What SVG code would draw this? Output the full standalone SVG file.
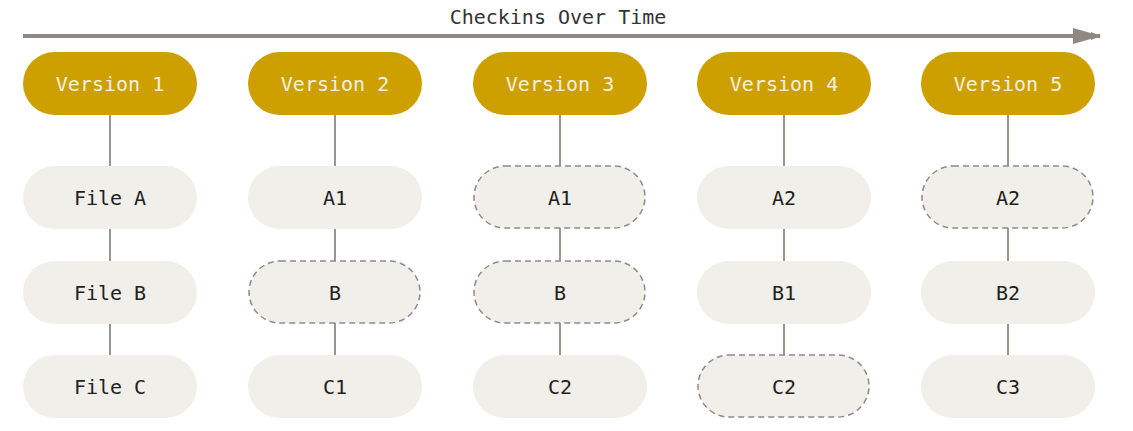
<svg xmlns="http://www.w3.org/2000/svg" width="1133" height="431" viewBox="0 0 1133 431">
<style>
.v{fill:#cda000}
.f{fill:#f0efe9}
.d{fill:#f0efe9;stroke:#8c8c8c;stroke-width:1.5;stroke-dasharray:6 4}
text{font-family:"DejaVu Sans Mono",monospace;font-size:20px;text-anchor:middle;dominant-baseline:central}
.vt{fill:#f2efe2}
.ft{fill:#222}
.c{stroke:#999590;stroke-width:2}
</style>
<defs><marker id="ah" markerWidth="10" markerHeight="8" refX="9" refY="4" orient="auto" markerUnits="userSpaceOnUse" viewBox="0 0 10 8"><path d="M0,0 L10,4 L0,8z" fill="#8f8982"/></marker></defs>
<text x="558" y="17" class="ft" style="fill:#333">Checkins Over Time</text>
<g id="connectors">
<line x1="23" y1="36" x2="1100" y2="36" stroke="#8f8982" stroke-width="4" marker-end="url(#ah)"/>
<path class="c" d="M110,115V385M335,115V385M560,115V385M784,115V385M1008,115V385"/>
</g>
<defs><marker id="ah2" markerWidth="28" markerHeight="20" refX="27" refY="10" orient="auto" markerUnits="userSpaceOnUse" viewBox="0 0 28 20"><path d="M0,2 L28,10 L0,18z" fill="#8f8982"/></marker></defs>
<line x1="1070" y1="36" x2="1100" y2="36" stroke="none" marker-end="url(#ah2)"/>
<g id="v1"><rect class="v" x="23" y="52" width="174" height="63" rx="31.5"/><text class="vt" x="110" y="84">Version 1</text></g>
<g id="v2"><rect class="v" x="248" y="52" width="174" height="63" rx="31.5"/><text class="vt" x="335" y="84">Version 2</text></g>
<g id="v3"><rect class="v" x="473" y="52" width="174" height="63" rx="31.5"/><text class="vt" x="560" y="84">Version 3</text></g>
<g id="v4"><rect class="v" x="697" y="52" width="174" height="63" rx="31.5"/><text class="vt" x="784" y="84">Version 4</text></g>
<g id="v5"><rect class="v" x="921" y="52" width="174" height="63" rx="31.5"/><text class="vt" x="1008" y="84">Version 5</text></g>
<g id="n1a"><rect class="f" x="23" y="166" width="174" height="63" rx="31.5"/><text class="ft" x="110" y="198">File A</text></g>
<g id="n1b"><rect class="f" x="23" y="261" width="174" height="63" rx="31.5"/><text class="ft" x="110" y="293">File B</text></g>
<g id="n1c"><rect class="f" x="23" y="355" width="174" height="63" rx="31.5"/><text class="ft" x="110" y="387">File C</text></g>
<g id="n2a"><rect class="f" x="248" y="166" width="174" height="63" rx="31.5"/><text class="ft" x="335" y="198">A1</text></g>
<g id="n2b"><rect class="d" x="249" y="261" width="171" height="62" rx="31"/><text class="ft" x="335" y="293">B</text></g>
<g id="n2c"><rect class="f" x="248" y="355" width="174" height="63" rx="31.5"/><text class="ft" x="335" y="387">C1</text></g>
<g id="n3a"><rect class="d" x="474" y="166" width="171" height="62" rx="31"/><text class="ft" x="560" y="198">A1</text></g>
<g id="n3b"><rect class="d" x="474" y="261" width="171" height="62" rx="31"/><text class="ft" x="560" y="293">B</text></g>
<g id="n3c"><rect class="f" x="473" y="355" width="174" height="63" rx="31.5"/><text class="ft" x="560" y="387">C2</text></g>
<g id="n4a"><rect class="f" x="697" y="166" width="174" height="63" rx="31.5"/><text class="ft" x="784" y="198">A2</text></g>
<g id="n4b"><rect class="f" x="697" y="261" width="174" height="63" rx="31.5"/><text class="ft" x="784" y="293">B1</text></g>
<g id="n4c"><rect class="d" x="698" y="355" width="171" height="62" rx="31"/><text class="ft" x="784" y="387">C2</text></g>
<g id="n5a"><rect class="d" x="922" y="166" width="171" height="62" rx="31"/><text class="ft" x="1008" y="198">A2</text></g>
<g id="n5b"><rect class="f" x="921" y="261" width="174" height="63" rx="31.5"/><text class="ft" x="1008" y="293">B2</text></g>
<g id="n5c"><rect class="f" x="921" y="355" width="174" height="63" rx="31.5"/><text class="ft" x="1008" y="387">C3</text></g>
</svg>
